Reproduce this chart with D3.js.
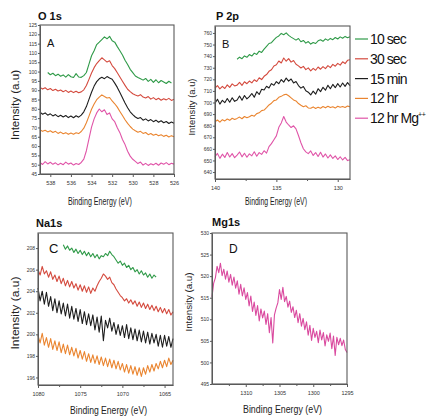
<!DOCTYPE html>
<html><head><meta charset="utf-8">
<script src="https://cdn.jsdelivr.net/npm/d3@7"></script>
<style>body{margin:0;background:#fff}svg{display:block}text{font-family:Arial,"Liberation Sans",sans-serif}</style>
</head><body><svg id="c" width="427" height="418"></svg>
<script>
// ---------- legend / series ----------
const seriesNames = ["10 sec", "30 sec", "15 min", "12 hr", "12 hr Mg"];
const seriesColors = ["#2f9a48", "#d44a3e", "#1e1e1e", "#ea8530", "#e055a8"];

// ---------- Panel A : O 1s ----------
const o1sEnergy = d3.range(53).map(i => 539 - 0.25 * i);
const o1sXTicks = [538, 536, 534, 532, 530, 528, 526];
const o1sYTicks = [45, 50, 55, 60, 65, 70, 75, 80, 85, 90, 95, 100, 105, 110, 115, 120, 125];
const o1s10sec = [null, null, null, 99.5, 98.3, 99.1, 97.8, 98.6, 97.5, 98.2, 97.0, 98.4, 97.2, 96.8, 98.9, 97.1, 96.9, 97.8, 99.5, 104, 108.5, 111.2, 114.5, 115.8, 117.2, 118.6, 117.6, 118.9, 116.5, 115.8, 113.4, 111.2, 108.9, 106.1, 103.8, 101.2, 99.4, 97.6, 96.8, 96.1, 95.4, 96.3, 94.7, 95.8, 94.2, 95.6, 94.0, 95.2, 94.4, 93.6, 94.8, 93.9, null];
const o1s30sec = [91.5, 90.6, 91.3, 90.2, 90.9, 89.8, 90.5, 89.6, 90.1, 89.2, 89.9, 88.8, 89.6, 88.7, 89.4, 88.6, 89.1, 90.2, 92.5, 95.8, 99.2, 102.1, 104.3, 105.9, 107.4, 106.3, 105.1, 105.8, 103.2, 101.6, 99.4, 97.1, 94.8, 92.6, 90.5, 89.2, 88.1, 87.4, 86.9, 87.6, 86.3, 85.8, 86.6, 85.2, 86.0, 84.9, 85.7, 84.6, 85.4, 84.8, 85.6, 84.5, 85.1];
const o1s15min = [78.2, 77.1, 77.8, 76.6, 77.3, 76.2, 76.9, 75.8, 76.5, 75.6, 76.4, 75.3, 76.1, 75.2, 76.3, 75.5, 76.6, 78.4, 81.2, 85.1, 88.9, 92.2, 94.6, 96.1, 96.9, 96.2, 97.3, 96.5, 95.9, 93.8, 91.5, 88.7, 85.9, 83.1, 80.6, 78.4, 76.9, 75.6, 74.8, 75.3, 73.9, 74.6, 73.5, 74.2, 73.1, 73.9, 72.8, 73.6, 72.5, 73.2, 72.1, 72.9, 72.3];
const o1s12hr = [68.8, 67.9, 68.5, 67.6, 68.2, 67.3, 67.9, 66.8, 67.5, 66.6, 67.2, 66.3, 67.0, 66.4, 67.1, 66.7, 67.8, 69.6, 72.5, 76.1, 79.8, 82.6, 84.9, 86.3, 87.5, 86.6, 85.8, 86.1, 84.2, 82.7, 80.9, 78.6, 76.4, 74.1, 72.2, 70.5, 69.1, 68.2, 67.4, 67.9, 66.8, 67.3, 66.1, 66.7, 65.8, 66.4, 65.5, 66.1, 65.2, 65.8, 64.9, 65.6, 65.0];
const o1s12hrMg = [51.2, 50.1, 51.6, 50.4, 51.3, 50.2, 51.0, 49.9, 50.8, 50.0, 51.4, 50.3, 50.9, 49.8, 50.6, 50.1, 51.2, 53.0, 57.5, 63.8, 70.2, 74.6, 77.8, 79.9, 78.4, 79.5, 76.9, 77.8, 74.6, 73.1, 69.8, 67.2, 63.5, 60.8, 57.2, 54.6, 52.9, 51.8, 50.6, 51.4, 49.8, 50.7, 49.6, 50.5, 49.9, 50.8, 49.7, 50.9, 50.2, 51.1, 50.0, 50.8, 50.3];

// ---------- Panel B : P 2p ----------
const p2pEnergy = d3.range(56).map(i => 140 - 0.2 * i);
const p2pXTicks = [140, 135, 130];
const p2pXMinor = [137.5, 132.5];
const p2pYTicks = [640, 650, 660, 670, 680, 690, 700, 710, 720, 730, 740, 750, 760];
const p2p10sec = [null, null, null, null, null, null, null, null, null, 737.3, 739.1, 737.8, 740.2, 739.0, 741.4, 740.1, 742.6, 741.5, 744.3, 743.2, 746.0, 748.4, 750.9, 751.6, 754.1, 756.2, 757.4, 759.6, 758.5, 760.1, 757.9, 756.4, 755.1, 753.8, 755.2, 752.4, 753.5, 751.2, 752.6, 750.4, 751.8, 750.9, 753.2, 754.1, 752.8, 754.9, 753.6, 755.3, 754.2, 756.1, 754.8, 756.6, 755.4, 757.0, 755.9, 756.8];
const p2p30sec = [712.4, 714.6, 711.8, 713.9, 712.1, 715.2, 713.0, 716.1, 714.3, 715.0, 717.4, 714.8, 717.9, 716.2, 718.5, 716.9, 719.6, 718.1, 721.3, 719.8, 722.6, 724.1, 726.9, 728.3, 731.5, 732.6, 735.8, 734.1, 738.4, 735.6, 737.9, 734.8, 736.2, 733.0, 731.6, 729.8, 731.2, 728.4, 729.9, 727.3, 729.5, 727.8, 730.6, 728.7, 731.0, 729.2, 731.8, 730.1, 732.9, 731.3, 733.8, 732.2, 735.1, 733.6, 736.4, 736.9];
const p2p15min = [699.3, 702.8, 698.6, 701.9, 699.8, 703.4, 700.2, 704.1, 701.0, 702.2, 705.6, 701.9, 706.0, 703.1, 705.0, 707.8, 704.6, 709.3, 706.9, 711.4, 710.8, 714.0, 712.5, 716.3, 714.9, 718.0, 716.2, 719.8, 717.6, 721.1, 718.4, 720.3, 716.9, 718.1, 714.6, 712.4, 713.8, 710.1, 708.9, 706.5, 709.8, 707.2, 711.9, 709.4, 713.1, 710.6, 714.8, 711.9, 715.6, 712.8, 716.3, 713.4, 716.8, 713.9, 717.2, 714.6];
const p2p12hr = [683.4, 684.9, 683.0, 685.2, 684.1, 685.8, 684.6, 686.4, 685.3, 686.3, 687.4, 686.0, 687.9, 686.8, 687.7, 689.0, 688.2, 690.4, 691.1, 693.0, 693.5, 695.6, 697.9, 699.4, 701.6, 702.2, 704.5, 705.3, 706.6, 707.1, 705.8, 704.0, 702.2, 701.3, 699.1, 697.6, 696.4, 697.2, 695.3, 695.0, 696.2, 694.8, 696.0, 695.1, 696.5, 695.4, 696.7, 695.6, 696.3, 695.2, 696.8, 695.9, 696.6, 695.7, 696.9, 696.4];
const p2p12hrMg = [653.2, 656.1, 651.8, 655.4, 652.6, 656.8, 653.0, 655.9, 652.4, 654.6, 657.3, 653.1, 656.2, 652.8, 655.7, 654.0, 657.5, 653.6, 656.8, 655.2, 658.4, 656.3, 661.9, 664.5, 667.8, 671.2, 678.6, 682.4, 687.9, 683.1, 680.6, 678.4, 679.9, 677.2, 671.5, 665.3, 660.1, 657.4, 655.9, 658.2, 654.3, 656.8, 653.4, 657.1, 652.9, 655.6, 652.1, 654.8, 651.7, 653.9, 650.8, 653.2, 650.4, 652.6, 649.9, 650.6];

// ---------- Panel C : Na 1s ----------
const na1sEnergy = d3.range(65).map(i => 1080 - 0.25 * i);
const na1sXTicks = [1080, 1075, 1070, 1065];
const na1sXMinor = [1077.5, 1072.5, 1067.5];
const na1sYTicks = [196, 198, 200, 202, 204, 206, 208];
const na1s10sec = [null, null, null, null, null, null, null, null, null, null, null, null, 208.3, 207.9, 208.2, 207.8, 208.0, 207.6, 207.9, 207.5, 207.8, 207.4, 207.7, 207.3, 207.6, 207.2, 207.5, 207.1, 207.4, 207.0, 207.3, 207.2, 207.5, 207.3, 207.7, 207.4, 207.2, 206.9, 206.6, 206.8, 206.4, 206.6, 206.2, 206.4, 206.0, 206.2, 205.8, 206.0, 205.6, 205.9, 205.5, 205.7, 205.3, 205.6, 205.2, 205.5, 205.3, null, null, null, null, null, null, null, null];
const na1s30sec = [206.0, 205.5, 206.3, 205.6, 205.9, 205.3, 205.8, 205.1, 205.5, 204.9, 205.4, 204.7, 205.2, 204.5, 205.0, 204.4, 204.9, 204.3, 204.7, 204.1, 204.6, 204.0, 204.5, 203.9, 204.4, 203.8, 204.3, 204.0, 204.5, 204.9, 205.2, 205.6, 205.4, 205.1, 205.3, 204.8, 204.6, 204.2, 203.9, 203.6, 203.4, 203.1, 203.3, 202.9, 203.2, 202.8, 203.1, 202.6, 203.0, 202.5, 202.9, 202.4, 202.8, 202.3, 202.7, 202.2, 202.6, 202.1, 202.5, 202.0, 202.4, 201.9, 202.3, 201.8, 202.1];
const na1s15min = [204.3, 203.1, 204.0, 202.8, 203.9, 202.6, 203.5, 202.2, 203.3, 202.0, 203.1, 201.9, 202.9, 201.7, 202.8, 201.5, 202.6, 201.4, 202.4, 201.2, 202.3, 201.0, 202.1, 200.9, 201.9, 200.8, 201.8, 200.4, 201.6, 200.2, 201.7, 199.4, 201.3, 200.6, 201.5, 200.3, 201.1, 200.0, 200.9, 199.9, 200.8, 199.7, 200.9, 199.6, 200.6, 199.5, 200.5, 199.4, 200.4, 199.3, 200.3, 199.2, 200.2, 199.1, 200.1, 199.2, 200.0, 198.9, 199.9, 198.8, 199.9, 198.9, 199.8, 198.8, 199.6];
const na1s12hr = [199.9, 199.2, 200.1, 199.0, 199.7, 198.8, 199.6, 198.6, 199.4, 198.5, 199.3, 198.3, 199.1, 198.2, 199.0, 198.1, 198.8, 198.0, 198.7, 197.8, 198.5, 197.7, 198.4, 197.5, 198.2, 197.4, 198.1, 197.3, 198.0, 197.2, 197.9, 197.1, 197.8, 197.0, 197.7, 196.9, 197.6, 196.8, 197.5, 196.7, 197.3, 196.5, 197.2, 196.4, 197.1, 196.3, 197.0, 196.2, 196.9, 196.1, 196.9, 196.3, 197.1, 196.5, 197.2, 196.6, 197.3, 196.8, 197.5, 196.9, 197.6, 197.0, 197.8, 197.2, 197.6];

// ---------- Panel D : Mg 1s ----------
const mg1sEnergy = d3.range(81).map(i => 1315 - 0.25 * i);
const mg1sXTicks = [1310, 1305, 1300, 1295];
const mg1sXMinor = [1312.5, 1307.5, 1302.5, 1297.5];
const mg1sYTicks = [495, 500, 505, 510, 515, 520, 525, 530];
const mg1s12hrMg = [515.2, 518.4, 519.6, 522.3, 520.8, 523.0, 520.1, 521.6, 519.3, 521.2, 518.6, 520.4, 517.9, 519.8, 517.2, 518.9, 515.8, 518.1, 515.4, 517.3, 514.6, 516.2, 513.1, 515.4, 511.8, 514.0, 510.9, 513.2, 509.6, 512.4, 510.3, 511.9, 508.8, 511.3, 506.9, 510.4, 504.5, 511.0, 512.6, 513.8, 516.9, 514.6, 517.4, 514.1, 515.3, 512.8, 514.2, 511.6, 512.9, 510.4, 512.1, 509.2, 511.3, 508.4, 510.2, 507.6, 509.4, 506.3, 508.6, 505.1, 507.9, 505.8, 507.2, 504.6, 507.5, 505.2, 506.9, 503.8, 506.4, 504.9, 506.8, 503.2, 506.1, 501.6, 505.8, 504.1, 505.6, 503.9, 505.2, 503.0, 502.3];

const svg = d3.select("#c");

function panel(cfg) {
  const g = svg.append("g");
  const x = d3.scaleLinear().domain(cfg.xDomain).range([cfg.left, cfg.right]);
  const y = d3.scaleLinear().domain(cfg.yDomain).range([cfg.bottom, cfg.top]);

  const line = d3.line().defined(d => d[1] != null).x(d => x(d[0])).y(d => y(d[1]));
  cfg.series.forEach(s => {
    g.append("path")
      .datum(cfg.energy.map((e, i) => [e, s.values[i]]))
      .attr("d", line).attr("fill", "none")
      .attr("stroke", s.color).attr("stroke-width", 1.1).attr("stroke-linejoin", "round");
  });

  g.append("rect").attr("x", cfg.left).attr("y", cfg.top)
    .attr("width", cfg.right - cfg.left).attr("height", cfg.bottom - cfg.top)
    .attr("fill", "none").attr("stroke", "#5a5a5a").attr("stroke-width", 1.1);

  const xa = g.append("g").attr("transform", `translate(0,${cfg.bottom})`)
    .call(d3.axisBottom(x).tickValues(cfg.xTicks).tickSize(3).tickSizeOuter(0).tickFormat(d3.format("d")));
  if (cfg.xMinor) {
    g.append("g").attr("transform", `translate(0,${cfg.bottom})`)
      .call(d3.axisBottom(x).tickValues(cfg.xMinor).tickSize(2).tickSizeOuter(0).tickFormat(""))
      .call(a => a.select(".domain").remove());
  }
  const ya = g.append("g").attr("transform", `translate(${cfg.left},0)`)
    .call(d3.axisLeft(y).tickValues(cfg.yTicks).tickSize(2).tickSizeOuter(0).tickFormat(d3.format("d")));
  g.selectAll(".domain").attr("stroke", "#5a5a5a");
  g.selectAll(".tick line").attr("stroke", "#5a5a5a");
  xa.selectAll("text").attr("font-size", 5.5).attr("fill", "#333").attr("dy", "0.9em");
  ya.selectAll("text").attr("font-size", 5).attr("fill", "#333").attr("x", -3);

  svg.append("text").attr("x", cfg.titleX).attr("y", cfg.titleY)
    .attr("font-size", 11).attr("font-weight", "bold").attr("fill", "#111").text(cfg.title);
  svg.append("text").attr("x", cfg.letterX).attr("y", cfg.letterY)
    .attr("font-size", cfg.letterSize).attr("fill", "#111").text(cfg.letter);
  svg.append("text")
    .attr("transform", `translate(${cfg.ylabX},${cfg.ylabY}) rotate(-90)`)
    .attr("text-anchor", "middle").attr("font-size", cfg.ylabSize).attr("fill", "#222")
    .attr("textLength", cfg.ylabLen).attr("lengthAdjust", "spacingAndGlyphs")
    .text("Intensity (a.u)");
  svg.append("text").attr("x", cfg.xlabX).attr("y", cfg.xlabY)
    .attr("font-size", 11).attr("fill", "#222")
    .attr("textLength", cfg.xlabLen).attr("lengthAdjust", "spacingAndGlyphs")
    .text("Binding Energy (eV)");
}

panel({
  left: 40, right: 174, top: 25, bottom: 174,
  xDomain: [539, 526], yDomain: [45, 125],
  xTicks: o1sXTicks, yTicks: o1sYTicks, energy: o1sEnergy,
  series: [
    { values: o1s10sec, color: seriesColors[0] },
    { values: o1s30sec, color: seriesColors[1] },
    { values: o1s15min, color: seriesColors[2] },
    { values: o1s12hr, color: seriesColors[3] },
    { values: o1s12hrMg, color: seriesColors[4] }
  ],
  title: "O 1s", titleX: 38, titleY: 20,
  letter: "A", letterX: 47, letterY: 47, letterSize: 11,
  ylabX: 19, ylabY: 105, ylabSize: 11, ylabLen: 70,
  xlabX: 68, xlabY: 205, xlabLen: 64
});

panel({
  left: 215, right: 350, top: 26, bottom: 179,
  xDomain: [140, 129], yDomain: [634, 766],
  xTicks: p2pXTicks, xMinor: p2pXMinor, yTicks: p2pYTicks, energy: p2pEnergy,
  series: [
    { values: p2p10sec, color: seriesColors[0] },
    { values: p2p30sec, color: seriesColors[1] },
    { values: p2p15min, color: seriesColors[2] },
    { values: p2p12hr, color: seriesColors[3] },
    { values: p2p12hrMg, color: seriesColors[4] }
  ],
  title: "P 2p", titleX: 216, titleY: 20,
  letter: "B", letterX: 222, letterY: 48, letterSize: 11,
  ylabX: 194.5, ylabY: 107, ylabSize: 9, ylabLen: 57,
  xlabX: 245, xlabY: 205, xlabLen: 62
});

panel({
  left: 38, right: 173, top: 233, bottom: 385,
  xDomain: [1080, 1064], yDomain: [195.3, 209.4],
  xTicks: na1sXTicks, xMinor: na1sXMinor, yTicks: na1sYTicks, energy: na1sEnergy,
  series: [
    { values: na1s10sec, color: seriesColors[0] },
    { values: na1s30sec, color: seriesColors[1] },
    { values: na1s15min, color: seriesColors[2] },
    { values: na1s12hr, color: seriesColors[3] }
  ],
  title: "Na1s", titleX: 36, titleY: 227,
  letter: "C", letterX: 49, letterY: 253, letterSize: 13,
  ylabX: 19, ylabY: 313, ylabSize: 11, ylabLen: 73,
  xlabX: 70, xlabY: 414, xlabLen: 77
});

panel({
  left: 212, right: 347, top: 233, bottom: 384,
  xDomain: [1315, 1295], yDomain: [495, 530],
  xTicks: mg1sXTicks, xMinor: mg1sXMinor, yTicks: mg1sYTicks, energy: mg1sEnergy,
  series: [
    { values: mg1s12hrMg, color: "#da4a9f" }
  ],
  title: "Mg1s", titleX: 212, titleY: 226,
  letter: "D", letterX: 229, letterY: 253, letterSize: 12,
  ylabX: 192, ylabY: 302, ylabSize: 9, ylabLen: 59,
  xlabX: 243, xlabY: 413, xlabLen: 79
});

// ---------- legend ----------
const legend = svg.append("g");
seriesNames.forEach((name, i) => {
  const yy = 39 + i * 19.8;
  legend.append("line").attr("x1", 355).attr("x2", 368).attr("y1", yy).attr("y2", yy)
    .attr("stroke", seriesColors[i]).attr("stroke-width", 1.2);
  const t = legend.append("text").attr("x", 370).attr("y", yy + 5)
    .attr("font-size", 14).attr("letter-spacing", "-0.9px").attr("fill", "#111").text(name);
  if (i === 4) t.append("tspan").attr("dy", -6).attr("font-size", 7).attr("letter-spacing", "-0.3px").text("++");
});
</script></body></html>
